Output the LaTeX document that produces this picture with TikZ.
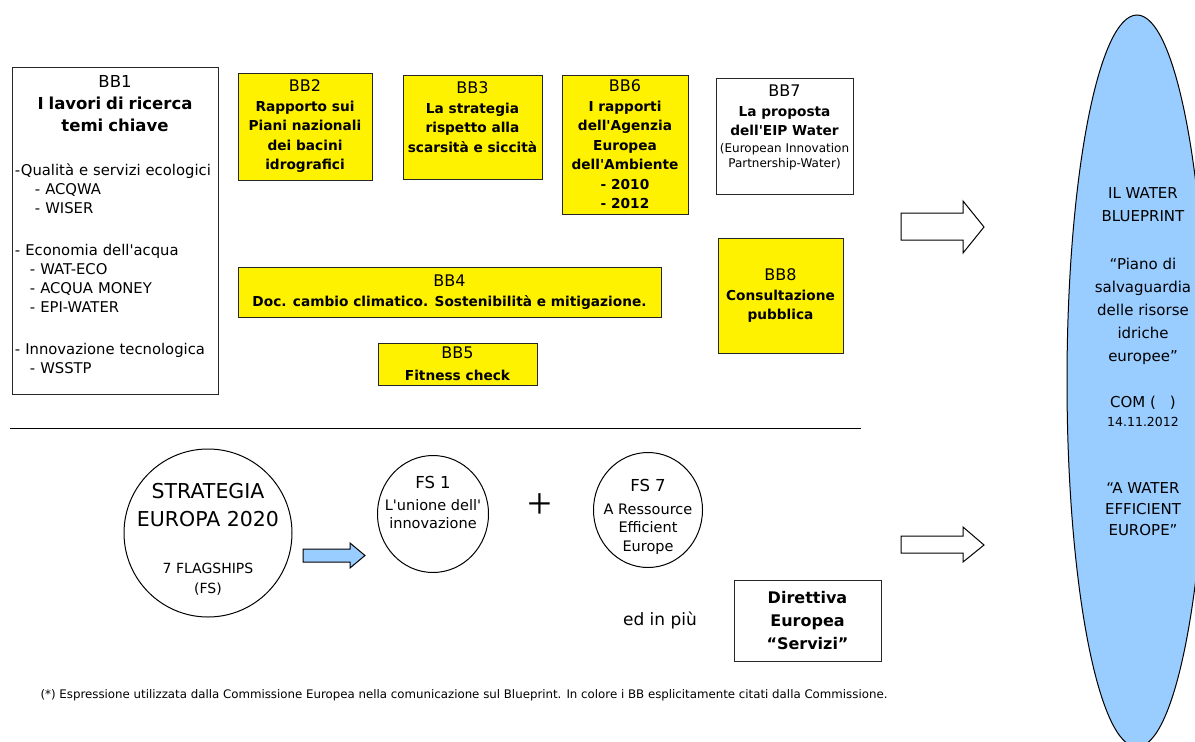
\documentclass[tikz,border=0pt]{standalone}
\usepackage{fontspec}
\setmainfont{DejaVu Sans}[Ligatures=TeXOff]
\newfontfamily\plusfont{Liberation Serif}
\usetikzlibrary{positioning,shapes.geometric}
\definecolor{celeste}{HTML}{99CCFF}
\newcommand{\bbn}[1]{{\mdseries\fontsize{16}{19.5}\selectfont #1}}

\begin{document}
\begin{tikzpicture}[x=1pt, y=-1pt, line width=1pt,
		bbox/.style={draw=black!85, fill=yellow, align=center, inner sep=2pt, font=\fontsize{13.7}{19.5}\selectfont\bfseries},
		wbox/.style={bbox, fill=white},
		flag/.style={draw, ellipse, inner sep=0pt},
		flagtxt/.style={align=center, inner sep=0pt, font=\fontsize{14.5}{18.5}\selectfont}]
	\useasboundingbox (0,0) rectangle (1195,742);
	% building blocks
	\node (bb1) [wbox, minimum width=206pt, minimum height=327pt] at (115,230.5) {};
	\node (bb1txt) [below=8pt of bb1.north, inner sep=0pt, text width=200pt, align=left, font=\fontsize{14.8}{19}\selectfont] {{\centering\fontsize{16.5}{22}\selectfont BB1\\ \textbf{I lavori di ricerca}\\ \textbf{temi chiave}\par}\vspace{25pt}-Qualità e servizi ecologici\\
		\hspace*{20pt}- ACQWA\\
		\hspace*{20pt}- WISER\\[23pt]
		- Economia dell'acqua\\
		\hspace*{15pt}- WAT-ECO\\
		\hspace*{15pt}- ACQUA MONEY\\
		\hspace*{15pt}- EPI-WATER\\[23pt]
		- Innovazione tecnologica\\
		\hspace*{15pt}- WSSTP};
	\node (bb2) [bbox, minimum width=134pt, minimum height=107pt] at (305,126.5) {\bbn{BB2}\\ Rapporto sui\\ Piani nazionali\\ dei bacini\\ idrografici};
	\node (bb3) [bbox, minimum width=139pt, minimum height=104pt] at (472.5,127) {\bbn{BB3}\\ La strategia\\ rispetto alla\\ scarsità e siccità\\ \mbox{}};
	\node (bb6) [bbox, minimum width=126pt, minimum height=139pt] at (625,144.5) {\bbn{BB6}\\ I rapporti\\ dell'Agenzia\\ Europea\\ dell'Ambiente\\ - 2010\\ - 2012};
	\node (bb7) [wbox, minimum width=137pt, minimum height=116pt] at (784.5,136) {\bbn{BB7}\\ La proposta\\ dell'EIP Water\\[-2.5pt] {\mdseries\fontsize{12}{15}\selectfont (European Innovation}\\[-4.5pt] {\mdseries\fontsize{12}{15}\selectfont Partnership-Water)}\\ \mbox{}};
	\node (bb4) [bbox, minimum width=423pt, minimum height=50pt] at (449.5,292) {\bbn{BB4}\\[1pt] Doc. cambio climatico. Sostenibilità e mitigazione.};
	\node (bb5) [bbox, minimum width=159pt, minimum height=42pt] at (457.5,364) {\bbn{BB5}\\[2pt] Fitness check};
	\node (bb8) [bbox, minimum width=125pt, minimum height=115pt] at (780.5,295.5) {\bbn{BB8}\\ Consultazione\\ pubblica};
	% separatore
	\coordinate (sepL) at (10,428);
	\coordinate (sepR) at (861,428);
	\draw (sepL) -- (sepR);
	% flagships
	\node (strat) [flag, circle, minimum size=168pt] at (208,533) {};
	\node (strattxt) [flagtxt, font=\fontsize{14}{20}\selectfont] at (208,539) {{\fontsize{20.5}{28}\selectfont STRATEGIA}\\[8pt] {\fontsize{20.5}{28}\selectfont EUROPA 2020}\\[27pt] 7 FLAGSHIPS\\ (FS)};
	\node (fs1) [flag, minimum width=111pt, minimum height=117pt] at (433,514) {};
	\node (fs1txt) [flagtxt] at (433,502.5) {{\fontsize{16.5}{22}\selectfont FS 1}\\[3.5pt] L'unione dell'\\ innovazione};
	\node (fs7) [flag, minimum width=109pt, minimum height=115pt] at (648,510) {};
	\node (fs7txt) [flagtxt] at (648,516.5) {{\fontsize{16.5}{22}\selectfont FS 7}\\[4.5pt] A Ressource\\ Efficient\\ Europe};
	\node (plus) [font=\plusfont\fontsize{44}{44}\selectfont, inner sep=0pt] at (540,506) {+};
	\draw[fill=celeste] (303,549) -- (350,549) -- (350,543) -- (365,555.5) -- (350,568) -- (350,562) -- (303,562) -- cycle;
	\node (dir) [wbox, font=\fontsize{16}{23}\selectfont\bfseries, minimum width=147pt, minimum height=81pt] at (807.5,620.5) {Direttiva\\ Europea\\ “Servizi”};
	\node (edpiu) [left of=dir, node distance=147.5pt, font=\fontsize{17}{20}\selectfont] {ed in più};
	% frecce verso il blueprint
	\draw (901,213) -- (963,213) -- (963,201) -- (984,227) -- (963,253) -- (963,240) -- (901,240) -- cycle;
	\draw (901,536) -- (963,536) -- (963,527) -- (984,545) -- (963,562) -- (963,553) -- (901,553) -- cycle;
	% blueprint
	\node (wbp) [draw, ellipse, fill=celeste, minimum width=140pt, minimum height=732pt, inner sep=0pt] at (1137,381) {};
	\node (wbptxt) [align=center, font=\fontsize{15}{23}\selectfont] at (1143,361.5) {IL WATER\\ BLUEPRINT\\[25pt] “Piano di\\ salvaguardia\\ delle risorse\\ idriche\\ europee”\\[23pt] COM (\hspace{14pt})\\[-4pt] {\fontsize{12.5}{15}\selectfont 14.11.2012}\\[44pt] “A WATER\\[-2pt] EFFICIENT\\[-2pt] EUROPE”};
	\node (note) [font=\fontsize{11.8}{14}\selectfont] at (464,695) {(*) Espressione utilizzata dalla Commissione Europea nella comunicazione sul Blueprint. In colore i BB esplicitamente citati dalla Commissione.};
\end{tikzpicture}
\end{document}
